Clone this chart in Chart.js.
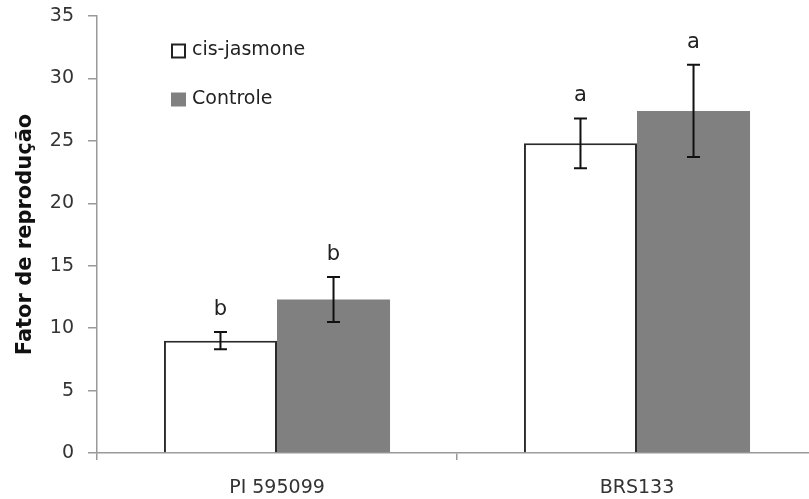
<!DOCTYPE html>
<html>
<head>
<meta charset="utf-8">
<script src="https://cdn.jsdelivr.net/npm/chart.js@4.4.1/dist/chart.umd.min.js"></script>
<style>
  html, body { margin: 0; padding: 0; background: #fff; overflow: hidden; }
  #wrap { width: 817px; height: 499px; }
</style>
</head>
<body>
<div id="wrap"><canvas id="c" width="817" height="499"></canvas></div>
<script>
// Genotypes on the x axis
const categories = ['PI 595099', 'BRS133'];
// Reproduction factor (mean) and standard error for each treatment
const cisJasmone = [9.0, 24.8];
const cisJasmoneErr = [0.7, 2.0];
const controle = [12.3, 27.4];
const controleErr = [1.8, 3.7];
// Significance letters above each bar
const cisJasmoneLetters = ['b', 'a'];
const controleLetters = ['b', 'a'];
const yTicks = [0, 5, 10, 15, 20, 25, 30, 35];

const FONT = 'DejaVu Sans, sans-serif';

// Error bars, significance letters and the inset legend
const decorations = {
  id: 'decorations',
  afterDatasetsDraw(chart) {
    const ctx = chart.ctx;
    const y = chart.scales.y;
    const errs = [cisJasmoneErr, controleErr];
    const letters = [cisJasmoneLetters, controleLetters];
    ctx.save();
    chart.data.datasets.forEach((ds, di) => {
      const meta = chart.getDatasetMeta(di);
      meta.data.forEach((bar, i) => {
        const v = ds.data[i];
        const e = errs[di][i];
        const yt = y.getPixelForValue(v + e);
        const yb = y.getPixelForValue(v - e);
        const x = bar.x;
        ctx.strokeStyle = '#111';
        ctx.lineWidth = 2;
        ctx.beginPath();
        ctx.moveTo(x, yt); ctx.lineTo(x, yb);
        ctx.moveTo(x - 6.5, yt); ctx.lineTo(x + 6.5, yt);
        ctx.moveTo(x - 6.5, yb); ctx.lineTo(x + 6.5, yb);
        ctx.stroke();
        ctx.fillStyle = '#222';
        ctx.font = '21px ' + FONT;
        ctx.textAlign = 'center';
        ctx.textBaseline = 'alphabetic';
        ctx.fillText(letters[di][i], x, yt - 17);
      });
    });
    // legend
    ctx.font = '19px ' + FONT;
    ctx.textAlign = 'left';
    ctx.textBaseline = 'middle';
    const items = chart.data.datasets;
    items.forEach((ds, i) => {
      const cy = 50.5 + i * 49;
      if (ds.backgroundColor === '#ffffff') {
        ctx.fillStyle = '#fff';
        ctx.fillRect(172, cy - 6, 13, 13);
        ctx.strokeStyle = '#222';
        ctx.lineWidth = 2;
        ctx.strokeRect(172, cy - 6, 13, 13);
      } else {
        ctx.fillStyle = ds.backgroundColor;
        ctx.fillRect(171, cy - 7, 15, 14);
      }
      ctx.fillStyle = '#222';
      ctx.fillText(ds.label, 192, cy);
    });
    ctx.restore();
  }
};

new Chart(document.getElementById('c'), {
  type: 'bar',
  data: {
    labels: categories,
    datasets: [
      {
        label: 'cis-jasmone',
        data: cisJasmone,
        backgroundColor: '#ffffff',
        borderColor: '#2a2a2a',
        borderWidth: { top: 2, left: 2, right: 2, bottom: 0 },
        borderSkipped: 'bottom'
      },
      {
        label: 'Controle',
        data: controle,
        backgroundColor: '#808080',
        borderWidth: 0
      }
    ]
  },
  options: {
    responsive: false,
    animation: false,
    layout: { padding: { top: 16, right: 0, left: 0, bottom: 0 } },
    plugins: { legend: { display: false }, tooltip: { enabled: false } },
    datasets: { bar: { barPercentage: 1.0, categoryPercentage: 0.628 } },
    scales: {
      x: {
        offset: true,
        grid: {
          offset: true,
          display: true,
          drawOnChartArea: false,
          drawTicks: true,
          tickLength: 7,
          color: '#999',
          lineWidth: 1.5
        },
        border: { color: '#999', width: 1.5 },
        ticks: {
          color: '#333',
          font: { family: FONT, size: 19 },
          padding: 17
        },
        afterFit(scale) {
          scale.height = 46;
          scale.paddingLeft = 0;
          scale.paddingRight = 0;
        }
      },
      y: {
        min: 0,
        max: 35,
        afterBuildTicks(scale) { scale.ticks = yTicks.map(v => ({ value: v })); },
        grid: {
          display: true,
          drawOnChartArea: false,
          drawTicks: true,
          tickLength: 9,
          color: '#999',
          lineWidth: 1.5
        },
        border: { color: '#999', width: 1.5 },
        ticks: {
          color: '#333',
          font: { family: FONT, size: 19 },
          padding: 14
        },
        title: {
          display: true,
          text: 'Fator de reprodução',
          color: '#111',
          font: { family: FONT, size: 21, weight: 'bold' },
          padding: { top: 13, bottom: 6 }
        },
        afterFit(scale) {
          scale.width = 97;
          scale.paddingTop = 0;
          scale.paddingBottom = 0;
        }
      }
    }
  },
  plugins: [decorations]
});
</script>
</body>
</html>
